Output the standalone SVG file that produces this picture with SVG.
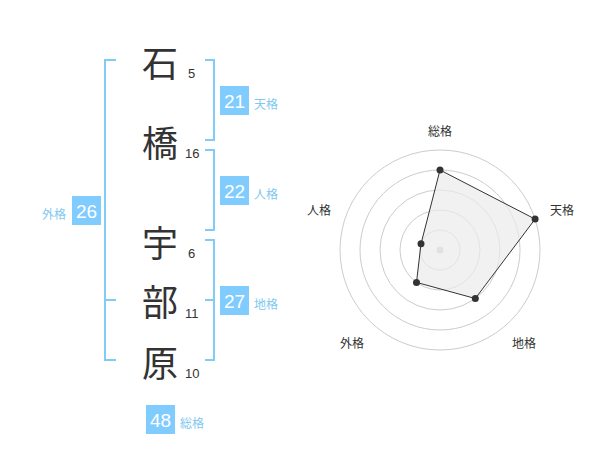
<svg xmlns="http://www.w3.org/2000/svg" width="600" height="470" viewBox="0 0 600 470">
<style>
.kanji{font-family:"Noto Sans CJK JP","Noto Sans CJK SC",sans-serif;font-size:36px;fill:#333;text-anchor:middle;dominant-baseline:central}
.num{font-family:"Liberation Sans",Arial,sans-serif;font-size:13px;fill:#333;dominant-baseline:central}
.br{fill:none;stroke:#80cbf8;stroke-width:2}
.box{fill:#80ccff}
.bt{font-family:"Liberation Sans",Arial,sans-serif;font-size:19px;fill:#fff;text-anchor:middle;dominant-baseline:central}
.lb{font-family:"Noto Sans CJK JP","Noto Sans CJK SC",sans-serif;font-size:12px;fill:#80c8f0;dominant-baseline:central}
.ring{fill:none;stroke:#ccc;stroke-width:1}
.rl{font-family:"Noto Sans CJK JP","Noto Sans CJK SC",sans-serif;font-size:12px;fill:#333;text-anchor:middle;dominant-baseline:central}
.pt{fill:#333}
</style>
<rect width="600" height="470" fill="#fff"/>
<g id="connectors">
<path class="br" d="M116,60 H105 V360 H116 M105,300 H116"/>
<path class="br" d="M205,60 H214 V140 H205"/>
<path class="br" d="M205,150 H214 V230 H205"/>
<path class="br" d="M205,240 H214 V360 H205 M205,300 H214"/>
</g>
<g id="char-1"><text class="kanji" x="160" y="61">石</text><text class="num" x="188" y="73">5</text></g>
<g id="char-2"><text class="kanji" x="160" y="141">橋</text><text class="num" x="185" y="153">16</text></g>
<g id="char-3"><text class="kanji" x="160" y="241">宇</text><text class="num" x="188" y="253">6</text></g>
<g id="char-4"><text class="kanji" x="160" y="300">部</text><text class="num" x="185" y="313">11</text></g>
<g id="char-5"><text class="kanji" x="160" y="361">原</text><text class="num" x="185" y="373">10</text></g>
<g id="tenkaku"><rect class="box" x="220" y="86" width="29" height="29"/><text class="bt" x="234.5" y="101">21</text><text class="lb" x="254" y="103">天格</text></g>
<g id="jinkaku"><rect class="box" x="220" y="176" width="29" height="29"/><text class="bt" x="234.5" y="191">22</text><text class="lb" x="254" y="193">人格</text></g>
<g id="chikaku"><rect class="box" x="220" y="286" width="29" height="29"/><text class="bt" x="234.5" y="301">27</text><text class="lb" x="254" y="303">地格</text></g>
<g id="gaikaku"><rect class="box" x="72" y="196" width="29" height="29"/><text class="bt" x="86.5" y="211">26</text><text class="lb" x="66" y="213" text-anchor="end">外格</text></g>
<g id="soukaku"><rect class="box" x="146" y="405" width="29" height="29"/><text class="bt" x="160.5" y="420">48</text><text class="lb" x="180" y="422">総格</text></g>
<g id="radar">
<circle class="ring" cx="440" cy="250" r="20"/>
<circle class="ring" cx="440" cy="250" r="40"/>
<circle class="ring" cx="440" cy="250" r="60"/>
<circle class="ring" cx="440" cy="250" r="80"/>
<circle class="ring" cx="440" cy="250" r="100"/>
<circle cx="440" cy="250" r="3.5" fill="#c8c8c8"/>
<polygon points="440,170 535.1,219.1 475.3,298.5 416.5,282.4 421,243.8" fill="#ebebeb" fill-opacity="0.7" stroke="#333" stroke-width="1"/>
<circle class="pt" cx="440" cy="170" r="3.5"/>
<circle class="pt" cx="535.1" cy="219.1" r="3.5"/>
<circle class="pt" cx="475.3" cy="298.5" r="3.5"/>
<circle class="pt" cx="416.5" cy="282.4" r="3.5"/>
<circle class="pt" cx="421" cy="243.8" r="3.5"/>
<text class="rl" x="440" y="130">総格</text>
<text class="rl" x="562" y="209">天格</text>
<text class="rl" x="524" y="342">地格</text>
<text class="rl" x="352" y="342">外格</text>
<text class="rl" x="319" y="209">人格</text>
</g>
</svg>
